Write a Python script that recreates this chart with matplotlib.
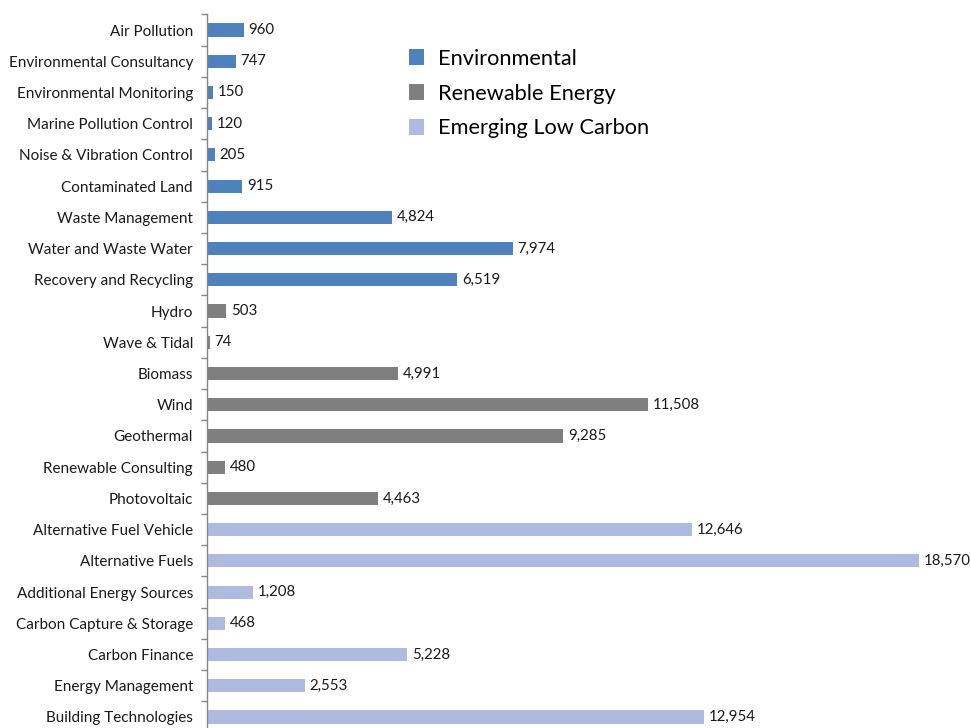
import matplotlib
matplotlib.use("Agg")
import matplotlib.pyplot as plt
from matplotlib.patches import Patch

categories = [
    "Air Pollution", "Environmental Consultancy", "Environmental Monitoring",
    "Marine Pollution Control", "Noise & Vibration Control", "Contaminated Land",
    "Waste Management", "Water and Waste Water", "Recovery and Recycling",
    "Hydro", "Wave & Tidal", "Biomass", "Wind", "Geothermal",
    "Renewable Consulting", "Photovoltaic",
    "Alternative Fuel Vehicle", "Alternative Fuels", "Additional Energy Sources",
    "Carbon Capture & Storage", "Carbon Finance", "Energy Management",
    "Building Technologies",
]
values = [960, 747, 150, 120, 205, 915, 4824, 7974, 6519,
          503, 74, 4991, 11508, 9285, 480, 4463,
          12646, 18570, 1208, 468, 5228, 2553, 12954]
groups = ["Environmental"] * 9 + ["Renewable Energy"] * 7 + ["Emerging Low Carbon"] * 7
group_names = ["Environmental", "Renewable Energy", "Emerging Low Carbon"]
group_colors = {"Environmental": "#4F81BD",
                "Renewable Energy": "#7F7F7F",
                "Emerging Low Carbon": "#AEBADF"}

plt.rcParams["font.family"] = ["Lato", "DejaVu Sans"]

W, H = 971, 728
fig = plt.figure(figsize=(W / 100, H / 100), dpi=100)
left_px, top_px, bottom_px = 207, 14.4, 732.6
px_per_unit = (919 - 207) / 18570
xmax = 20000
ax = fig.add_axes([left_px / W, (H - bottom_px) / H,
                   xmax * px_per_unit / W, (bottom_px - top_px) / H])

ypos = list(range(len(categories)))
ax.barh(ypos, values, height=0.42,
        color=[group_colors[g] for g in groups])

for y, v in zip(ypos, values):
    ax.annotate(f"{v:,}", xy=(v, y), xytext=(3.5, 0), textcoords="offset points",
                va="center", ha="left", fontsize=10.8, color="#1a1a1a")

ax.set_xlim(0, xmax)
ax.set_ylim(len(categories) - 0.5, -0.5)
ax.set_yticks(ypos)
ax.set_yticklabels(categories, fontsize=11, color="#1a1a1a")
ax.set_yticks([y - 0.5 for y in range(len(categories) + 1)], minor=True)
ax.tick_params(axis="y", which="major", length=0, pad=10)
ax.tick_params(axis="y", which="minor", length=4, color="#868686", width=1)
ax.xaxis.set_visible(False)
for s in ["top", "right", "bottom"]:
    ax.spines[s].set_visible(False)
ax.spines["left"].set_color("#868686")
ax.spines["left"].set_linewidth(1)

handles = [Patch(facecolor=group_colors[g], edgecolor="none", label=g) for g in group_names]
fig.legend(handles=handles, loc="upper left", bbox_to_anchor=(400 / W, 1 - 40 / H),
           frameon=False, fontsize=15.7, handlelength=0.72, handleheight=0.72,
           handletextpad=0.6, labelspacing=0.68, borderaxespad=0)

fig.savefig("out.png", dpi=100)
